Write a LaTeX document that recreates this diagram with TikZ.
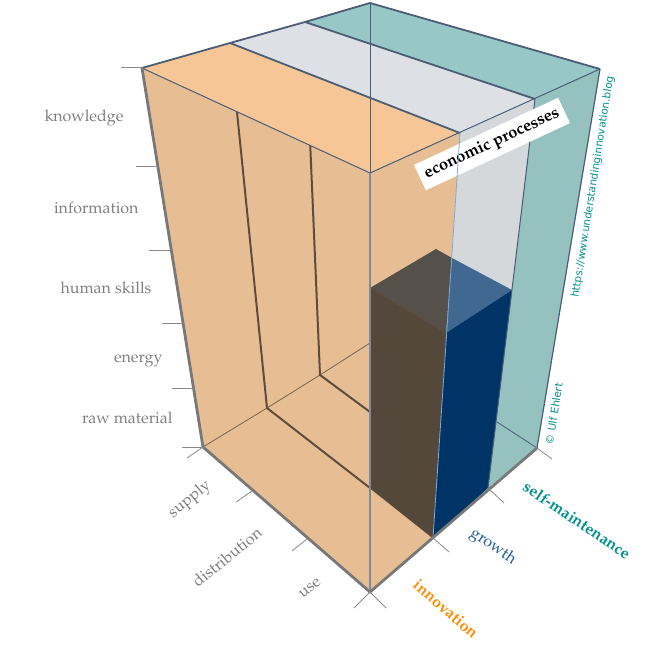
\documentclass[tikz,border=0pt]{standalone}
\usepackage[T1]{fontenc}
\usepackage{fontspec}
\usepackage{tikz}
\usepackage{xcolor}
\newfontfamily\webfont{DejaVu Sans}
\newcommand{\palfont}{\fontencoding{T1}\fontfamily{ppl}\selectfont}

\definecolor{faceorange}{HTML}{E7BE94}
\definecolor{toporange}{HTML}{F6C697}
\definecolor{topgray}{HTML}{DDE1E5}
\definecolor{frontgray}{HTML}{D4D8DB}
\definecolor{topteal}{HTML}{97C7C6}
\definecolor{frontteal}{HTML}{95C1BF}
\definecolor{colblue}{HTML}{003366}
\definecolor{coltop}{HTML}{406890}
\definecolor{coldark}{HTML}{54483B}
\definecolor{coltopdark}{HTML}{55504A}
\definecolor{edgeslate}{HTML}{4B5D75}
\definecolor{frontedge}{HTML}{7D8A9A}
\definecolor{lightedge}{HTML}{7FA8D8}
\definecolor{edgegray}{HTML}{787878}
\definecolor{innerbrown}{HTML}{5E4D3C}
\definecolor{tickgray}{HTML}{8A8A8A}
\definecolor{labelgray}{HTML}{808080}
\definecolor{innoorange}{HTML}{FF8C00}
\definecolor{growthblue}{HTML}{1F5C99}
\definecolor{selfteal}{HTML}{009090}

\begin{document}
\begin{tikzpicture}[x=1pt,y=-1pt,
  axislabel/.style={text=labelgray,font=\palfont\fontsize{16}{18}\selectfont},
  ticklines/.style={draw=tickgray,line width=0.8pt},
  slabedge/.style={draw=edgeslate,line width=1.8pt},
  inneredge/.style={draw=innerbrown,line width=2pt},
  frameedge/.style={draw=edgegray,line width=2.8pt,line cap=round}]
\useasboundingbox (0,0) rectangle (660,660);

% Corners of the box (top)
\coordinate (tl) at (142,68);
\coordinate (tf) at (370,173);
\coordinate (tr) at (600,69);
\coordinate (tb) at (370,3);
\coordinate (ti) at (460,133);
\coordinate (tg) at (535,99);
\coordinate (bi) at (230,43);
\coordinate (bg) at (305,22);
% Corners of the box (floor)
\coordinate (fl) at (203,447);
\coordinate (ff) at (370,592);
\coordinate (fi) at (433,538);
\coordinate (fg) at (488,488);
\coordinate (fr) at (537,448);
\coordinate (fbi) at (267,408);
\coordinate (fbg) at (320,375);
\coordinate (fb) at (370,343);
\coordinate (fgv) at (370,412);
\coordinate (fvr) at (497,422);
% Column growth / use
\coordinate (cA) at (370,288);
\coordinate (cB) at (436,249);
\coordinate (cC) at (512,290);
\coordinate (cD) at (446,333);
\coordinate (cF) at (370,488);
\coordinate (cS) at (452,258);

% Left face
\fill[faceorange] (tl) -- (tf) -- (ff) -- (fl) -- cycle;
\draw[innerbrown!80!faceorange,line width=0.8pt] (fl) -- (fbi) -- (fbg) -- (fb);
\draw[inneredge] (bi) -- (fbi) -- (cF);
\draw[inneredge] (bg) -- (fbg) -- (fgv);

% Front faces
\fill[faceorange] (tf) -- (ti) -- (fi) -- (ff) -- cycle;
\fill[frontgray] (ti) -- (tg) -- (fg) -- (fi) -- cycle;
\fill[frontteal] (tg) -- (tr) -- (fr) -- (fg) -- cycle;
\draw[edgeslate,line width=0.8pt] (fvr) -- (fr);

% Top faces
\fill[toporange] (tl) -- (bi) -- (ti) -- (tf) -- cycle;
\fill[topgray] (bi) -- (bg) -- (tg) -- (ti) -- cycle;
\fill[topteal] (bg) -- (tb) -- (tr) -- (tg) -- cycle;

% Column
\fill[coldark] (cA) -- (cD) -- (fi) -- (cF) -- cycle;
\fill[coltopdark] (cA) -- (cB) -- (cS) -- (cD) -- cycle;
\fill[coltop] (cS) -- (cC) -- (cD) -- cycle;
\fill[colblue] (cD) -- (cC) -- (fg) -- (fi) -- cycle;
\draw[innerbrown,line width=0.8pt] (cA) -- (cD) (cF) -- (fi);

% Edges
\draw[edgeslate,line width=0.8pt] (tb) -- (tf);
\draw[edgeslate,line width=1pt] (tl) -- (tf) -- (tr);
\draw[slabedge] (tl) -- (bi) -- (bg) -- (tb) -- (tr);
\draw[slabedge] (bi) -- (ti);
\draw[slabedge] (bg) -- (tg);
\draw[edgeslate,line width=1.2pt] (tr) -- (fr);
\draw[edgeslate,line width=1pt] (tg) -- (fg);

\node[fill=white,rotate=25,inner sep=0pt,minimum width=159pt,minimum height=28pt,
  font=\palfont\bfseries\fontsize{16.5}{18}\selectfont] (econ) at (492,144) {economic processes};

\draw[lightedge,line width=0.8pt] (ti) -- (fi);
\draw[frontedge,line width=1.2pt] (tf) -- (ff);
\draw[frameedge] (tl) -- (fl) -- (ff) -- (fr);

% Ticks
\foreach \y/\x in {67/142,166/157,250/170,323/183,388/193,447/203}
  \draw[ticklines] (\x,\y) -- ++(-21,0);
\foreach \x/\y/\dx/\dy in {203/447/-16/11,252/491/-16/11,307/539/-15/12,370/592/-16/16,
  370/592/16/16,433/538/16/14,488/488/16/15,537/448/15/11}
  \draw[ticklines] (\x,\y) -- ++(\dx,\dy);

% Resources
\node[axislabel,anchor=base east] (knowledge) at (127,122) {knowledge};
\node[axislabel,anchor=base east] (information) at (142,214) {information};
\node[axislabel,anchor=base east] (skills) at (155,293) {human skills};
\node[axislabel,anchor=base east] (energy) at (166,362) {energy};
\node[axislabel,anchor=base east] (material) at (176,423) {raw material};

% Stages
\node[axislabel,rotate=39] (supply) at (190,500) {supply};
\node[axislabel,rotate=39] (distribution) at (227,557) {distribution};
\node[axislabel,rotate=39] (use) at (310,588) {use};

% Processes
\node[text=innoorange,rotate=-41,font=\palfont\bfseries\fontsize{16}{18}\selectfont] (innovation) at (446,609) {innovation};
\node[text=growthblue,rotate=-34,font=\palfont\fontsize{16}{18}\selectfont] (growth) at (493,547) {growth};
\node[text=selfteal,rotate=-34,font=\palfont\bfseries\fontsize{16}{18}\selectfont] (selfm) at (577,520) {self-maintenance};

% Credits
\node[text=selfteal,rotate=81,font=\webfont\fontsize{10.5}{12}\selectfont] (url) at (593,187) {https://www.understandinginnovation.blog};
\node[text=selfteal,rotate=81,font=\webfont\fontsize{10.5}{12}\selectfont] (author) at (554,414) {© Ulf Ehlert};
\end{tikzpicture}
\end{document}
